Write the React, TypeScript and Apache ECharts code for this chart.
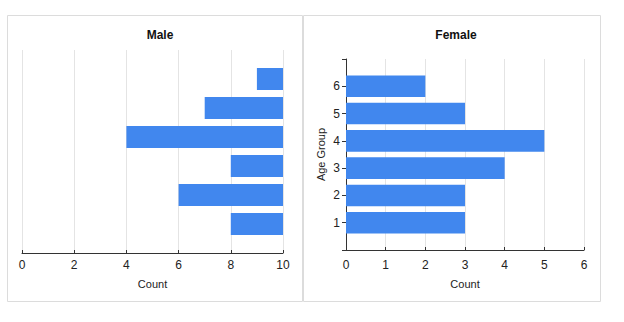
import React, { useEffect, useRef } from "react";
import * as echarts from "echarts";

const ageGroups = ["1", "2", "3", "4", "5", "6"];
const maleCounts = [2, 4, 2, 6, 3, 1];
const femaleCounts = [3, 3, 4, 5, 3, 2];
const maleTicks = { min: 0, max: 10, interval: 2 };
const femaleTicks = { min: 0, max: 6, interval: 1 };
const titles = ["Male", "Female"];
const xName = "Count";
const yName = "Age Group";

const FONT = "Liberation Sans, Arial, sans-serif";
const BLUE = "#4187ee";

export default function App() {
  const ref = useRef<HTMLDivElement>(null);
  useEffect(() => {
    if (!ref.current) return;
    const chart = echarts.init(ref.current, null, { renderer: "svg" });
    const cats = ["", ...ageGroups, " "];
    const pad = (arr: number[]) => ["-", ...arr, "-"];
    chart.setOption({
      animation: false,
      textStyle: { fontFamily: FONT },
      title: [
        { text: titles[0], left: 155, top: 24, textAlign: "center", textStyle: { fontSize: 12, fontWeight: "bold", color: "#111", fontFamily: FONT } },
        { text: titles[1], left: 451, top: 24, textAlign: "center", textStyle: { fontSize: 12, fontWeight: "bold", color: "#111", fontFamily: FONT } },
      ],
      graphic: [
        { type: "rect", shape: { x: 7.5, y: 15.5, width: 295, height: 286 }, style: { fill: "none", stroke: "#dcdcdc", lineWidth: 1 }, silent: true },
        { type: "rect", shape: { x: 303.5, y: 15.5, width: 297, height: 286 }, style: { fill: "none", stroke: "#dcdcdc", lineWidth: 1 }, silent: true },
      ],
      grid: [
        { left: 22, top: 50, width: 261, height: 203 },
        { left: 346, top: 59, width: 238, height: 191 },
      ],
      xAxis: [
        {
          gridIndex: 0,
          type: "value",
          inverse: true,
          ...maleTicks,
          name: xName,
          nameLocation: "middle",
          nameGap: 25,
          nameTextStyle: { fontSize: 11, color: "#222", fontFamily: FONT },
          axisLine: { show: true, lineStyle: { color: "#333", width: 1 } },
          axisTick: { show: true, inside: true, length: 3, lineStyle: { color: "#333" } },
          axisLabel: { fontSize: 12, color: "#222", margin: 6, fontFamily: FONT, formatter: (v: number) => String(maleTicks.max - v) },
          splitLine: { show: true, lineStyle: { color: "#e4e4e4" } },
        },
        {
          gridIndex: 1,
          type: "value",
          ...femaleTicks,
          name: xName,
          nameLocation: "middle",
          nameGap: 28,
          nameTextStyle: { fontSize: 11, color: "#222", fontFamily: FONT },
          axisLine: { show: true, lineStyle: { color: "#333", width: 1 } },
          axisTick: { show: true, inside: true, length: 3, lineStyle: { color: "#333" } },
          axisLabel: { fontSize: 12, color: "#222", margin: 9, fontFamily: FONT },
          splitLine: { show: true, lineStyle: { color: "#e4e4e4" } },
        },
      ],
      yAxis: [
        {
          gridIndex: 0,
          type: "category",
          data: cats,
          boundaryGap: false,
          axisLine: { show: false },
          axisTick: { show: false },
          axisLabel: { show: false },
          splitLine: { show: false },
        },
        {
          gridIndex: 1,
          type: "category",
          data: cats,
          boundaryGap: false,
          name: yName,
          nameLocation: "middle",
          nameGap: 20,
          nameRotate: 90,
          nameTextStyle: { fontSize: 11, color: "#222", fontFamily: FONT },
          axisLine: { show: true, lineStyle: { color: "#333", width: 1 } },
          axisTick: { show: true, length: 4, lineStyle: { color: "#333" } },
          axisLabel: { fontSize: 12, color: "#222", margin: 6, fontFamily: FONT },
          splitLine: { show: false },
        },
      ],
      series: [
        {
          type: "bar",
          xAxisIndex: 0,
          yAxisIndex: 0,
          data: pad(maleCounts),
          barWidth: "76%",
          itemStyle: { color: BLUE },
        },
        {
          type: "bar",
          xAxisIndex: 1,
          yAxisIndex: 1,
          data: pad(femaleCounts),
          barWidth: "79%",
          itemStyle: { color: BLUE },
        },
      ],
    });
    return () => chart.dispose();
  }, []);
  return (
    <div
      ref={ref}
      style={{ position: "absolute", left: 0, top: 0, width: 624, height: 322, background: "#fff" }}
    />
  );
}
